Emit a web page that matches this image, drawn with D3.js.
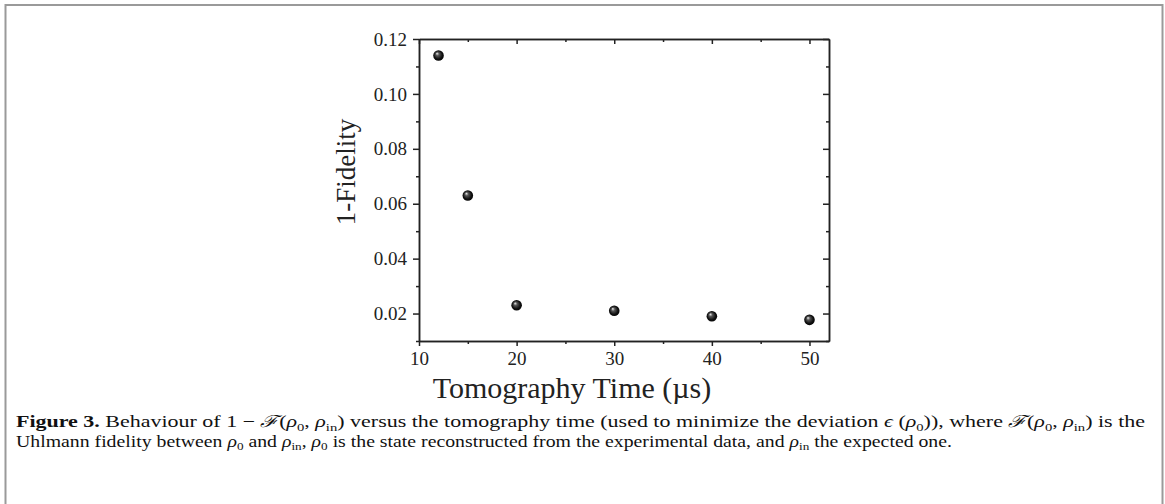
<!DOCTYPE html>
<html>
<head>
<meta charset="utf-8">
<script src="https://cdn.jsdelivr.net/npm/d3@7"></script>
<style>
  body { margin: 0; background: #fff; }
  svg text { font-family: "Liberation Serif", "Times New Roman", serif; }
</style>
</head>
<body>
<div id="chart"></div>
<script>
// DATA
let tomo_time = [12, 15, 20, 30, 40, 50]
let infidelity = [0.114, 0.063, 0.023, 0.021, 0.019, 0.0177]
let x_ticks = [10, 20, 30, 40, 50]
let x_minor = [15, 25, 35, 45]
let y_ticks = [0.02, 0.04, 0.06, 0.08, 0.10, 0.12]
let y_minor = [0.01, 0.03, 0.05, 0.07, 0.09, 0.11]

let fig_w = 1165, fig_h = 504

// CHART AREA
let margin = {top: 39, left: 419},
    width = 410,
    height = 302;

let svg_root = d3.select("#chart").append("svg")
    .attr("width", fig_w)
    .attr("height", fig_h)

// figure frame (bottom edge runs off the page)
svg_root.append("rect")
    .attr("x", 5.5).attr("y", 5)
    .attr("width", 1157).attr("height", 520)
    .attr("fill", "none")
    .attr("stroke", "#9a9a9a")
    .attr("stroke-width", 2)

// sphere look for the markers
let grad = svg_root.append("defs").append("radialGradient")
    .attr("id", "ball")
    .attr("cx", "50%").attr("cy", "50%").attr("r", "55%")
    .attr("fx", "35%").attr("fy", "30%")
grad.append("stop").attr("offset", "0%").attr("stop-color", "#f4f4f4")
grad.append("stop").attr("offset", "30%").attr("stop-color", "#555")
grad.append("stop").attr("offset", "70%").attr("stop-color", "#111")
grad.append("stop").attr("offset", "100%").attr("stop-color", "#000")

let svg = svg_root.append("g")
    .attr("transform", "translate(" + margin.left + "," + margin.top + ")");

// SCALES
let x_scale = d3.scaleLinear()
    .domain([10, 52])
    .range([0, width]);

let y_scale = d3.scaleLinear()
    .domain([0.01, 0.12])
    .range([height, 0]);

// AXES
function drawAxis(axisFn, scale, values, size, labels, translate) {
    let ax = axisFn(scale).tickValues(values).tickSizeInner(size).tickSizeOuter(0).tickPadding(6)
    if (!labels) ax.tickFormat("")
    else ax.tickFormat(labels)
    let g = svg.append("g").attr("transform", translate).call(ax)
    g.selectAll("line").attr("stroke", "#222").attr("stroke-width", 1.5)
    g.select(".domain").attr("stroke", "#222").attr("stroke-width", 1.5)
    g.selectAll("text").attr("font-size", 19).attr("fill", "#222")
        .style("font-family", "'Liberation Serif', serif")
    return g
}

// bottom
drawAxis(d3.axisBottom, x_scale, x_ticks, 5, d3.format("d"), "translate(0," + height + ")")
drawAxis(d3.axisBottom, x_scale, x_minor, 3, null, "translate(0," + height + ")")
// top (ticks inside)
drawAxis(d3.axisTop, x_scale, x_ticks, -5, null, "translate(0,0)")
drawAxis(d3.axisTop, x_scale, x_minor, -3, null, "translate(0,0)")
// left
drawAxis(d3.axisLeft, y_scale, y_ticks, 6, d3.format(".2f"), "translate(0,0)")
drawAxis(d3.axisLeft, y_scale, y_minor, 3, null, "translate(0,0)")
// right (ticks inside)
drawAxis(d3.axisRight, y_scale, y_ticks, -6, null, "translate(" + width + ",0)")
drawAxis(d3.axisRight, y_scale, y_minor, -3, null, "translate(" + width + ",0)")

// AXIS TITLES (sit a little off centre, as in the original)
svg.append("text")
    .attr("x", 153)
    .attr("y", height + 57)
    .attr("text-anchor", "middle")
    .attr("font-size", 30)
    .attr("fill", "#222")
    .text("Tomography Time (\u00b5s)")

svg.append("text")
    .attr("transform", "translate(-64,133) rotate(-90)")
    .attr("text-anchor", "middle")
    .attr("font-size", 27)
    .attr("fill", "#222")
    .text("1-Fidelity")

// POINTS
svg.selectAll(".ball")
    .data(tomo_time)
    .enter()
    .append("circle")
    .attr("class", "ball")
    .attr("cx", (d, i) => x_scale(d))
    .attr("cy", (d, i) => y_scale(infidelity[i]))
    .attr("r", 5.3)
    .attr("fill", "url(#ball)")

// CAPTION
let line1 = [
    {t: "Figure 3.", b: true}, {t: " Behaviour of 1 \u2212 "}, {t: "\u2131", i: true}, {t: "("},
    {t: "\u03c1", i: true}, {t: "0", sub: true}, {t: ", "}, {t: "\u03c1", i: true}, {t: "in", sub: true},
    {t: ") versus the tomography time (used to minimize the deviation "}, {t: "\u03f5", i: true}, {t: " ("},
    {t: "\u03c1", i: true}, {t: "0", sub: true}, {t: ")), where "}, {t: "\u2131", i: true}, {t: "("},
    {t: "\u03c1", i: true}, {t: "0", sub: true}, {t: ", "}, {t: "\u03c1", i: true}, {t: "in", sub: true},
    {t: ") is the"}
]
let line2 = [
    {t: "Uhlmann fidelity between "}, {t: "\u03c1", i: true}, {t: "0", sub: true}, {t: " and "},
    {t: "\u03c1", i: true}, {t: "in", sub: true}, {t: ", "}, {t: "\u03c1", i: true}, {t: "0", sub: true},
    {t: " is the state reconstructed from the experimental data, and "}, {t: "\u03c1", i: true},
    {t: "in", sub: true}, {t: " the expected one."}
]

function captionLine(parts, y, len) {
    let txt = svg_root.append("text")
        .attr("x", 16).attr("y", y)
        .attr("font-size", 16.5)
        .attr("fill", "#111")
        .attr("textLength", len)
        .attr("lengthAdjust", "spacingAndGlyphs")
        .style("font-family", "'Liberation Serif', serif")
    let wasSub = false
    parts.forEach(p => {
        let ts = txt.append("tspan").text(p.t)
        if (p.b) ts.attr("font-weight", "bold")
        if (p.i) ts.attr("font-style", "italic")
        if (p.sub) { ts.attr("dy", 3.5).attr("font-size", 11); wasSub = true }
        else if (wasSub) { ts.attr("dy", -3.5); wasSub = false }
    })
}
captionLine(line1, 427, 1129)
captionLine(line2, 446.5, 936)
</script>
</body>
</html>
